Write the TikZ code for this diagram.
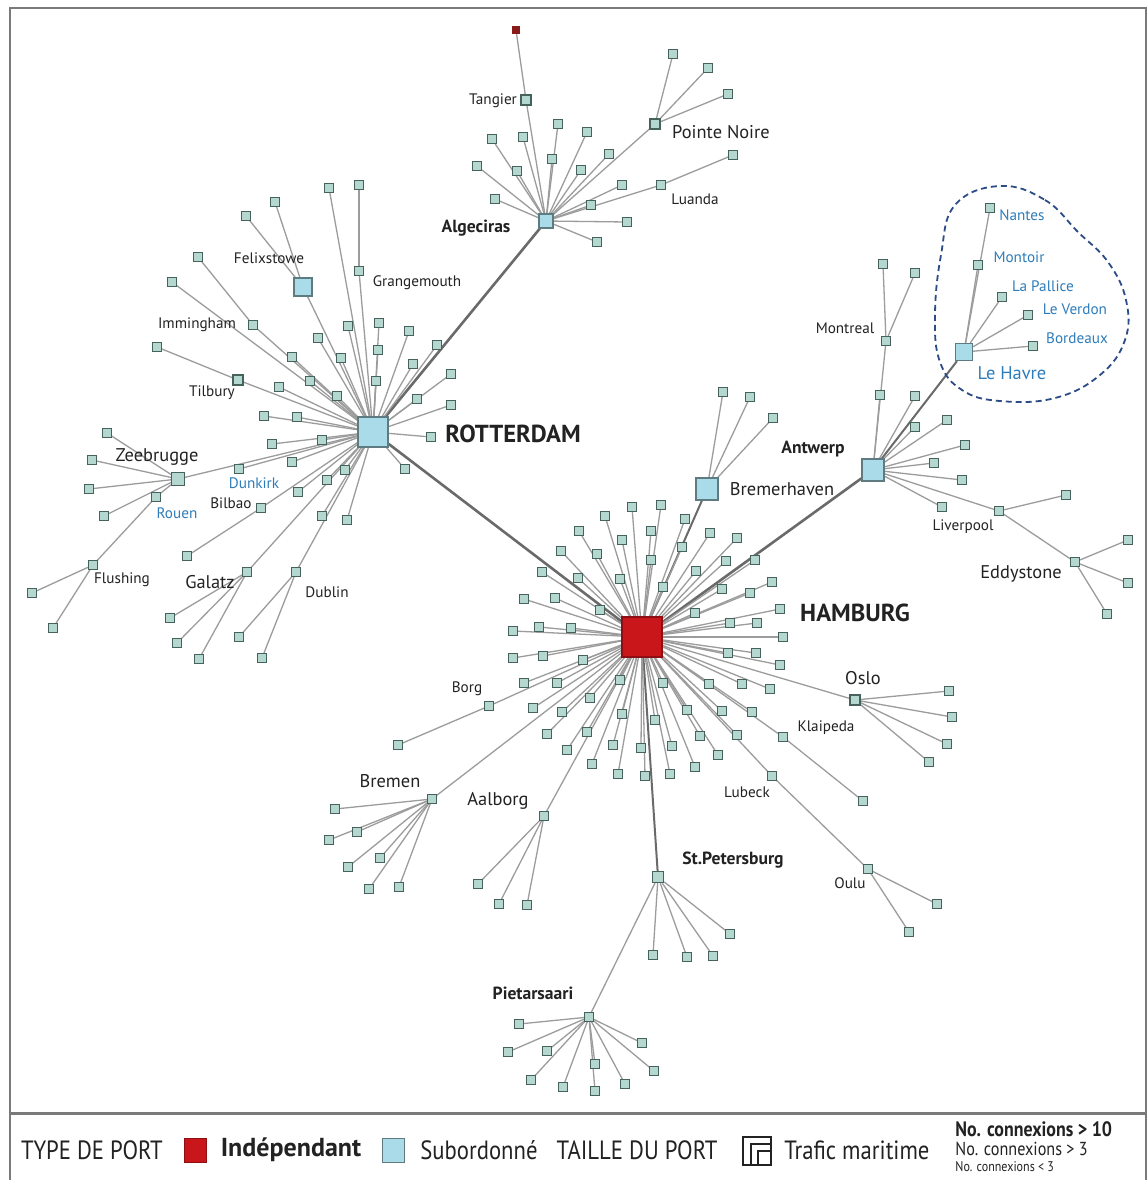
\documentclass[tikz,border=0pt]{standalone}
\usepackage{fontspec}
\setmainfont{PT Sans}
\newfontfamily\legfont{PT Sans}[FakeStretch=0.86]
\usetikzlibrary{positioning}
\pgfdeclarelayer{bg}
\pgfdeclarelayer{paper}
\pgfsetlayers{paper,bg,main}
\definecolor{sqfill}{HTML}{B4D8CF}
\definecolor{sqborder}{HTML}{45625C}
\definecolor{subfill}{HTML}{A9DBE8}
\definecolor{subborder}{HTML}{5E7B82}
\definecolor{hubred}{HTML}{C9161B}
\definecolor{darkred}{HTML}{8A1A1A}
\definecolor{edgecol}{HTML}{9C9C9C}
\definecolor{trunkcol}{HTML}{6A6A6A}
\definecolor{labblue}{HTML}{2E7DBA}
\definecolor{blobcol}{HTML}{2B4C86}
\definecolor{framecol}{HTML}{7A7A7A}
\definecolor{txt}{HTML}{222222}
\newcommand\portkids[3]{%
  \foreach \x/\y [count=\i] in {#3} {%
    \node[sq] (#2\i) at (\x,\y) {};
    \begin{pgfonlayer}{bg}\draw[edge] (#1) -- (#2\i);\end{pgfonlayer}
  }%
}
\tikzset{
  sq/.style={shape=rectangle, draw=sqborder, fill=sqfill, line width=0.6pt, minimum size=4.2pt, inner sep=0pt},
  msq/.style={sq, minimum size=5pt},
  sub/.style={shape=rectangle, draw=subborder, fill=subfill, line width=0.6pt, inner sep=0pt},
  edge/.style={draw=edgecol, line width=0.65pt},
  trunk/.style={draw=trunkcol, line width=1.3pt},
  labs/.style={font=\fontsize{7.6}{9}\selectfont, text=txt, inner sep=0pt},
  labl/.style={font=\fontsize{9.2}{10}\selectfont, text=txt, inner sep=0pt},
  labb/.style={font=\fontsize{8.8}{10}\selectfont\bfseries, text=txt, inner sep=0pt},
  labh/.style={font=\fontsize{12.3}{14}\selectfont\bfseries, text=txt, inner sep=0pt},
  blues/.style={labs, text=labblue},
  bluel/.style={labl, text=labblue},
  leg/.style={font=\legfont\fontsize{13.2}{14}\selectfont, text=txt, inner sep=0pt},
}
\begin{document}
\begin{tikzpicture}[x=0.5pt,y=-0.5pt]
\useasboundingbox (0,0) rectangle (1147,1180);
\begin{pgfonlayer}{paper}
\fill[white] (0,0) rectangle (1147,1180);
\end{pgfonlayer}
% frame
\draw[framecol, line width=1pt] (10,1180) -- (10,8) -- (1146,8) -- (1146,1180);
\draw[framecol, line width=1.5pt] (10,1113) -- (1146,1113);

% hubs
\node[shape=rectangle, draw=hubred!70!black, fill=hubred, minimum size=20pt, inner sep=0pt, line width=0.6pt] (HAM) at (642,637) {};
\node[sub, minimum size=15pt] (ROT) at (373,432) {};
\node[sub, minimum size=7pt] (ALG) at (546,221) {};
\node[sub, minimum size=11pt] (ANT) at (873,470) {};
\node[sub, minimum size=11pt] (BRH) at (707,489) {};
\node[sub, minimum size=9pt] (FEL) at (303,287) {};
\node[sub, minimum size=8.5pt] (LHV) at (964,352) {};
\node[msq, minimum size=6.5pt] (ZEE) at (178,479) {};
\node[shape=rectangle, fill=darkred, draw=darkred, minimum size=3.8pt, inner sep=0pt] (TOP) at (516,30) {};

% named mid ports
\node[msq] (TAN) at (526,100) {};
\node[msq] (PNO) at (655,124) {};
\node[sq] (LUA) at (661,185) {};
\node[sq] (GRA) at (359,271) {};
\node[sq] (IMM) at (253,325) {};
\node[msq] (TIL) at (238,380) {};
\node[sq] (ROU) at (156,497) {};
\node[sq] (FLU) at (93,565) {};
\node[sq] (DUN) at (239,469) {};
\node[sq] (BIL) at (261,508) {};
\node[sq] (GAL) at (247,572) {};
\node[sq] (DUB) at (296,572) {};
\node[sq] (BRG) at (489,706) {};
\node[sq] (BRE) at (432,799) {};
\node[sq] (AAL) at (544,816) {};
\node[msq, minimum size=5.6pt] (STP) at (658,877) {};
\node[sq] (PIE) at (589,1017) {};
\node[msq] (OSL) at (855,700) {};
\node[sq] (KLA) at (783,737) {};
\node[sq] (LUB) at (772,776) {};
\node[sq] (OUL) at (868,869) {};
\node[sq] (LIV) at (999,511) {};
\node[sq] (EDD) at (1075,562) {};
\node[sq] (MON) at (886,341) {};
\node[sq] (NAN) at (990,208) {};
\node[sq] (MTO) at (978,265) {};
\node[sq] (LAP) at (1002,297) {};
\node[sq] (LVE) at (1028,315) {};
\node[sq] (BOR) at (1033,346) {};

% trunk and named edges
\begin{pgfonlayer}{bg}
\draw[trunk] (ROT) -- (HAM);
\draw[trunk] (ALG) -- (ROT);
\draw[trunk] (ANT) -- (HAM);
\draw[trunk, line width=1pt] (BRH) -- (HAM);
\draw[trunk, line width=1pt] (STP) -- (HAM);
\draw[trunk, line width=1pt] (LHV) -- (ANT);
\draw[edge] (TOP) -- (TAN); \draw[edge] (TAN) -- (ALG);
\draw[edge] (PNO) -- (ALG); \draw[edge] (LUA) -- (ALG);
\draw[edge] (FEL) -- (ROT); \draw[edge] (GRA) -- (ROT);
\draw[edge] (IMM) -- (ROT); \draw[edge] (TIL) -- (ROT);
\draw[edge] (ZEE) -- (ROT); \draw[edge] (ROU) -- (ZEE);
\draw[edge] (FLU) -- (ROU); \draw[edge] (DUN) -- (ROT);
\draw[edge] (BIL) -- (ROT); \draw[edge] (GAL) -- (ROT);
\draw[edge] (DUB) -- (ROT);
\draw[edge] (BRG) -- (HAM); \draw[edge] (BRE) -- (HAM);
\draw[edge] (AAL) -- (HAM); \draw[edge] (PIE) -- (STP);
\draw[edge] (OSL) -- (HAM); \draw[edge] (KLA) -- (HAM);
\draw[edge] (LUB) -- (HAM); \draw[edge] (OUL) -- (LUB);
\draw[edge] (LIV) -- (ANT); \draw[edge] (EDD) -- (LIV);
\draw[edge] (MON) -- (ANT);
\draw[edge] (NAN) -- (LHV); \draw[edge] (MTO) -- (LHV);
\draw[edge] (LAP) -- (LHV); \draw[edge] (LVE) -- (LHV);
\draw[edge] (BOR) -- (LHV);
\end{pgfonlayer}

% leaf ports
\portkids{ALG}{a}{492/139,523/137,558/124,587/132,477/166,517/171,552/159,609/154,581/170,495/199,622/185,591/205,627/222,597/242}
\portkids{PNO}{pn}{673/54,708/68,728/94}
\portkids{LUA}{lu}{733/155}
\portkids{FEL}{fe}{246/216,275/202}
\portkids{GRA}{gr}{359/185}
\portkids{IMM}{im}{198/257}
\portkids{TIL}{ti}{157/347}
\portkids{ROT}{r}{329/188,172/282,318/338,348/326,379/323,409/331,378/350,341/358,413/364,437/345,451/374,417/399,451/405,376/381,310/381,279/387,337/396,264/416,297/417,431/437,272/444,322/440,292/462,292/357,327/480,298/492,322/516,347/520,345/470,405/469}
\portkids{ZEE}{ze}{107/433,92/460,89/489,104/516}
\portkids{FLU}{fl}{32/593,53/628}
\portkids{BIL}{bi}{187/556}
\portkids{GAL}{ga}{170/618,177/643,199/659}
\portkids{DUB}{du}{239/637,262/658}
\portkids{HAM}{h}{632/507,661/505,605/516,579/531,622/540,651/531,685/519,710/533,737/538,561/551,597/554,651/560,682/547,755/560,726/561,542/572,578/578,620/579,696/571,722/589,750/593,772/582,524/599,555/598,600/610,663/587,695/613,730/623,757/623,780/609,783/637,513/631,539/627,571/628,513/658,543/656,583/660,728/653,756/653,780/665,524/683,557/683,590/698,620/680,663/683,709/684,742/684,770/689,533/708,562/712,622/714,655/720,687/710,722/711,752/712,547/734,587/732,700/736,737/735,567/750,613/745,641/748,672/746,695/767,718/755,592/764,618/774,645/776,670/774}
\portkids{BRG}{bg}{398/745}
\portkids{BRE}{be}{335/809,357/832,329/840,380/858,348/867,369/889,399/887}
\portkids{AAL}{aa}{478/884,499/904,527/905}
\portkids{STP}{sp}{653/955,687/957,713/956,730/934}
\portkids{PIE}{pi}{519/1024,508/1052,547/1051,595/1064,642/1043,654/1071,531/1080,563/1087,595/1091,625/1084}
\portkids{OSL}{os}{949/691,952/717,947/744,929/762}
\portkids{KLA}{kl}{863/801}
\portkids{OUL}{ou}{937/904,909/932}
\portkids{BRH}{bh}{723/392,750/397,773/418}
\portkids{ANT}{an}{915/427,947/420,965/445,934/463,962/480,942/507,880/395,915/396}
\portkids{LIV}{li}{1066/495}
\portkids{EDD}{ed}{1128/540,1128/583,1107/614}
\portkids{MON}{mo}{883/264,915/273}

% Le Havre group outline
\draw[blobcol, line width=0.9pt, dash pattern=on 3pt off 2pt] plot[smooth cycle, tension=0.7] coordinates {(1000,186) (1045,200) (1078,232) (1108,262) (1126,300) (1125,340) (1100,375) (1055,398) (1000,401) (962,390) (940,362) (935,315) (941,255) (955,205)};

% labels
\node[labs] (lTAN) at (493,101) {Tangier};
\node[labl] (lPNO) at (721,132) {Pointe Noire};
\node[labs] (lLUA) at (695,199) {Luanda};
\node[labb] (lALG) at (476,228) {Algeciras};
\node[labs] (lFEL) at (269,258) {Felixstowe};
\node[labs] (lGRA) at (417,283) {Grangemouth};
\node[labs] (lIMM) at (197,325) {Immingham};
\node[labs] (lTIL) at (212,393) {Tilbury};
\node[labh] (lROT) at (513,434) {ROTTERDAM};
\node[labl] (lZEE) at (157,457) {Zeebrugge};
\node[blues] (lDUN) at (254,483) {Dunkirk};
\node[blues] (lROU) at (177,513) {Rouen};
\node[labs] (lBIL) at (231,503) {Bilbao};
\node[labs] (lFLU) at (122,580) {Flushing};
\node[labl] (lGAL) at (210,582) {Galatz};
\node[labs] (lDUB) at (327,592) {Dublin};
\node[labs] (lMON) at (845,328) {Montreal};
\node[blues] (lNAN) at (1022,215) {Nantes};
\node[blues] (lMTO) at (1019,257) {Montoir};
\node[blues] (lLAP) at (1043,286) {La Pallice};
\node[blues] (lLVE) at (1075,309) {Le Verdon};
\node[blues] (lBOR) at (1077,338) {Bordeaux};
\node[bluel] (lLHV) at (1012,373) {Le Havre};
\node[labb] (lANT) at (813,449) {Antwerp};
\node[labl] (lBRH) at (782,489) {Bremerhaven};
\node[labs] (lLIV) at (963,527) {Liverpool};
\node[labl] (lEDD) at (1021,574) {Eddystone};
\node[labh] (lHAM) at (855,613) {HAMBURG};
\node[labl] (lOSL) at (863,678) {Oslo};
\node[labs] (lBRG) at (467,689) {Borg};
\node[labs] (lKLA) at (826,728) {Klaipeda};
\node[labl] (lBRE) at (390,781) {Bremen};
\node[labl] (lAAL) at (498,801) {Aalborg};
\node[labs] (lLUB) at (747,792) {Lubeck};
\node[labb] (lSTP) at (733,860) {St.Petersburg};
\node[labs] (lOUL) at (850,883) {Oulu};
\node[labb] (lPIE) at (533,993) {Pietarsaari};

% legend
\node[leg] (t1) at (92,1150) {TYPE DE PORT};
\node[shape=rectangle, draw=hubred!70!black, fill=hubred, minimum width=11pt, minimum height=12pt, inner sep=0pt] (k1) at (195,1150) {};
\node[leg, font=\fontsize{13}{14}\selectfont\bfseries] (t2) at (291,1150) {Indépendant};
\node[shape=rectangle, draw=subborder, fill=subfill, minimum width=11pt, minimum height=12pt, inner sep=0pt] (k2) at (393,1150) {};
\node[leg] (t3) at (479,1150) {Subordonné};
\node[leg] (t4) at (637,1150) {TAILLE DU PORT};
\node[shape=rectangle, draw=txt, line width=0.7pt, minimum width=14pt, minimum height=14pt, inner sep=0pt] (k3) at (757,1151) {};
\draw[txt, line width=0.7pt] (751,1165) -- (751,1144) -- (771,1144);
\draw[txt, line width=0.7pt] (758,1165) -- (758,1151) -- (771,1151);
\node[leg] (t5) at (857,1150) {Trafic maritime};
\node[leg, anchor=west, font=\legfont\fontsize{10.4}{11}\selectfont\bfseries] (t6) at (955,1129) {No. connexions > 10};
\node[leg, anchor=west, font=\legfont\fontsize{9.4}{10}\selectfont] (t7) at (955,1149) {No. connexions > 3};
\node[leg, anchor=west, font=\legfont\fontsize{7}{8}\selectfont] (t8) at (955,1167) {No. connexions < 3};
\end{tikzpicture}
\end{document}
